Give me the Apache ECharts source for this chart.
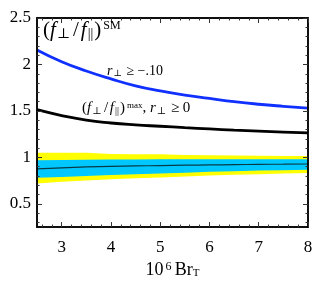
<!DOCTYPE html>
<html><head><meta charset="utf-8">
<script src="https://cdn.jsdelivr.net/npm/echarts@6/dist/echarts.min.js"></script>
<style>html,body{margin:0;padding:0;background:#fff}#c{width:327px;height:284px}</style>
</head><body><div id="c"></div>
<script>
const xs          = [2.5, 3, 3.5, 4, 4.5, 5, 5.5, 6, 6.5, 7, 7.5, 8];
const blueLine    = [2.156, 2.03, 1.93, 1.845, 1.77, 1.715, 1.67, 1.635, 1.60, 1.572, 1.55, 1.531];
const blackLine   = [1.513, 1.45, 1.40, 1.37, 1.35, 1.335, 1.32, 1.306, 1.293, 1.283, 1.273, 1.263];
const centerLine  = [0.877, 0.888, 0.897, 0.903, 0.908, 0.912, 0.916, 0.919, 0.922, 0.925, 0.927, 0.929];
const cyanTop     = [0.97, 0.972, 0.975, 0.977, 0.978, 0.979, 0.98, 0.98, 0.98, 0.98, 0.98, 0.98];
const cyanBottom  = [0.78, 0.79, 0.80, 0.81, 0.82, 0.828, 0.836, 0.845, 0.852, 0.858, 0.863, 0.867];
const yellowTop   = [1.05, 1.05, 1.05, 1.037, 1.035, 1.033, 1.025, 1.022, 1.02, 1.018, 1.016, 1.015];
const yellowBottom= [0.72, 0.738, 0.752, 0.765, 0.775, 0.785, 0.795, 0.805, 0.813, 0.82, 0.827, 0.833];
const xTicks      = [3, 4, 5, 6, 7, 8];
const yTicks      = [0.5, 1, 1.5, 2, 2.5];

const xMinor = [];
for (let i = 13; i <= 40; i++) { const v = +(i * 0.2).toFixed(1); if (!xTicks.includes(v)) xMinor.push(v); }
const yMinor = [];
for (let i = 3; i <= 25; i++) { const v = +(i * 0.1).toFixed(1); if (!yTicks.includes(v)) yMinor.push(v); }

const pairs = arr => xs.map((x, i) => [x, arr[i]]);

const serif = '"Liberation Serif","DejaVu Serif",serif';
const axisCol = '#000';

function xAx(pos, major, labels) {
  return {
    type: 'value', min: 2.5, max: 8, position: pos,
    axisLine: { show: true, onZero: false, lineStyle: { color: axisCol, width: 1.5 } },
    axisTick: { show: true, inside: true, length: major ? 5 : 2.5, customValues: major ? xTicks : xMinor, lineStyle: { color: '#333' } },
    axisLabel: { show: labels, customValues: xTicks, margin: 12, color: '#000', fontFamily: serif, fontSize: 17 },
    splitLine: { show: false },
    z: 10,
    name: labels ? '{n|10}{s|6} {n|Br}{b|T}' : '',
    nameLocation: 'middle', nameGap: 30,
    nameTextStyle: {
      rich: {
        n: { fontFamily: serif, fontSize: 18, color: '#000' },
        s: { fontFamily: serif, fontSize: 12, color: '#000', verticalAlign: 'top', padding: [0, 0, 6, 2] },
        b: { fontFamily: serif, fontSize: 11, color: '#000', verticalAlign: 'bottom', padding: [5, 0, 0, 0] }
      }
    }
  };
}
function yAx(pos, major, labels) {
  return {
    type: 'value', min: 0.25, max: 2.5, position: pos,
    axisLine: { show: true, onZero: false, lineStyle: { color: axisCol, width: 1.5 } },
    axisTick: { show: true, inside: true, length: major ? 5 : 2.5, customValues: major ? yTicks : yMinor, lineStyle: { color: '#333' } },
    axisLabel: { show: labels, customValues: yTicks, margin: 6, color: '#000', fontFamily: serif, fontSize: 17 },
    splitLine: { show: false },
    z: 10
  };
}

function band(upper, lower, color) {
  return {
    type: 'custom', data: [0], silent: true, clip: true, z: 1,
    renderItem: (params, api) => {
      const pts = [];
      xs.forEach((x, i) => pts.push(api.coord([x, upper[i]])));
      for (let i = xs.length - 1; i >= 0; i--) pts.push(api.coord([xs[i], lower[i]]));
      return { type: 'polygon', shape: { points: pts }, style: { fill: color, stroke: null } };
    }
  };
}

const chart = echarts.init(document.getElementById('c'), null, { renderer: 'canvas' });
const mathRich = (size, col, gap, supScale) => ({
  p: { fontFamily: serif, fontSize: size, color: col },
  sl: { fontFamily: serif, fontSize: size, color: col, padding: [0, gap, 0, gap] },
  i: { fontFamily: serif, fontStyle: 'italic', fontSize: size, color: col },
  sub: { fontFamily: serif, fontSize: Math.round(size * 0.65), color: col, verticalAlign: 'bottom', padding: [Math.round(size * 0.3), 1, 0, 1] },
  sup: { fontFamily: serif, fontSize: Math.round(size * supScale), color: col, verticalAlign: 'top', padding: [0, 0, Math.round(size * 0.4), 2] }
});

chart.setOption({
  animation: false,
  grid: { left: 37, right: 19, top: 18, bottom: 48 },
  xAxis: [xAx('bottom', true, true), xAx('bottom', false, false), xAx('top', true, false), xAx('top', false, false)],
  yAxis: [yAx('left', true, true), yAx('left', false, false), yAx('right', true, false), yAx('right', false, false)],
  series: [
    band(yellowTop, yellowBottom, '#ffff00'),
    band(cyanTop, cyanBottom, '#00c8ff'),
    { type: 'line', data: pairs(centerLine), symbol: 'none', smooth: true, z: 3, lineStyle: { color: '#0a3a46', width: 1.2 } },
    { type: 'line', data: pairs(blackLine), symbol: 'none', smooth: true, z: 3, lineStyle: { color: '#000', width: 2.8 } },
    { type: 'line', data: pairs(blueLine), symbol: 'none', smooth: true, z: 3, lineStyle: { color: '#1030ff', width: 2.8 } }
  ],
  graphic: [
    { type: 'text', left: 43, top: 20, z: 100, style: { text: '{p|(}{i|f}{sub|⊥}{sl|/}{i|f}{sub|||}{p|)}{sup|SM}', rich: mathRich(21, '#333', 2, 0.55) } },
    { type: 'text', left: 107, top: 64, z: 100, style: { text: '{i|r}{sub|⊥}{p| ≥ −.10}', rich: mathRich(14, '#555', 2, 0.6) } },
    { type: 'text', left: 82, top: 101, z: 100, style: { text: '{p|(}{i|f}{sub|⊥}{sl|/}{i|f}{sub|||}{p|)}{sup|max}{p|, }{i|r}{sub|⊥}{p| ≥ 0}', rich: mathRich(15, '#555', 1.5, 0.58) } }
  ]
});
</script></body></html>
